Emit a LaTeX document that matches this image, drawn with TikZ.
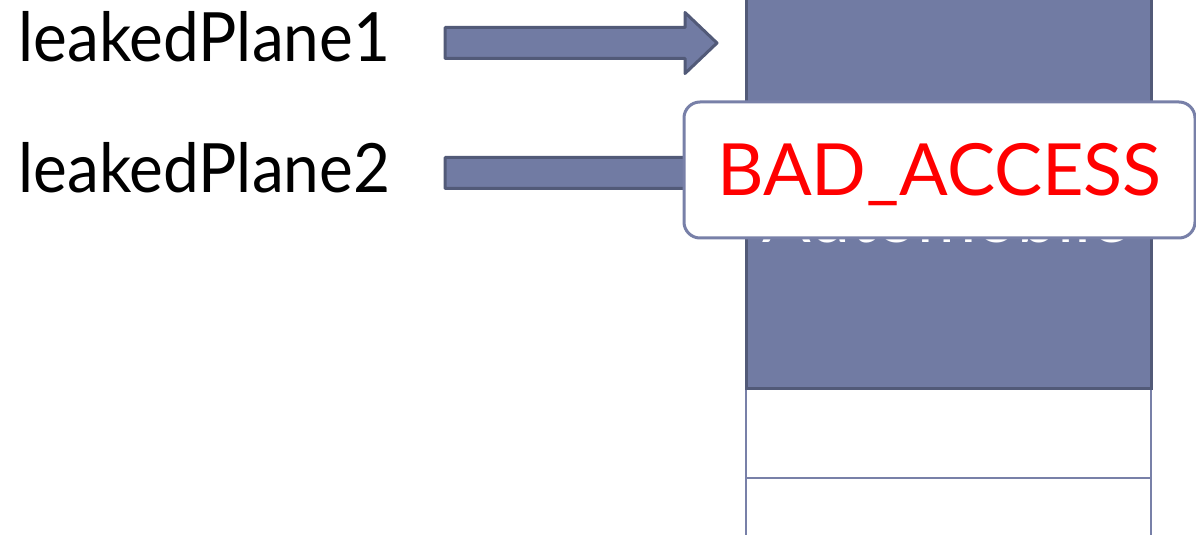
\documentclass[tikz,border=0pt]{standalone}
\usepackage{fontspec}
\setmainfont{Lato}
\newfontfamily\varfont[FakeStretch=0.94]{Lato}
\usepackage{tikz}
\usetikzlibrary{positioning}
\definecolor{slate}{RGB}{113,123,163}
\definecolor{slatedark}{RGB}{82,90,120}
\definecolor{cellline}{RGB}{120,128,168}
\definecolor{red}{rgb}{1.0, 0.0, 0.0}

\begin{document}
\begin{tikzpicture}[x=0.5pt, y=-0.5pt,
        varname/.style={anchor=base west, inner sep=0pt, font=\varfont\fontsize{34}{40}\selectfont},
        blockarrow/.style={fill=slate, draw=slatedark, line width=1.5pt, line join=round},
        cellbox/.style={draw=cellline, line width=1pt, fill=white}]
    \useasboundingbox (0, 0) rectangle (1196, 535);
    \begin{scope}
        \clip (0, 0) rectangle (1196, 535);
        % memory cells
        \draw[cellbox] (746, 388) rectangle (1151, 478);
        \draw[cellbox] (746, 478) rectangle (1151, 560);
        \node[draw=slatedark, fill=slate, line width=1.5pt, inner sep=0pt,
              minimum width=202.5pt, minimum height=214pt] (plane) at (948.5, 174) {};
        \node[anchor=base, inner sep=0pt, text=white, font=\fontsize{36}{42}\selectfont] (auto) at (946, 242.5) {Automobile};
        % pointers
        \node[varname] (lp1) at (18, 62) {leakedPlane1};
        \node[varname] (lp2) at (18, 193) {leakedPlane2};
        \foreach \y in {43, 173}
            \draw[blockarrow] (445, \y-15.5) -- (685, \y-15.5) -- (685, \y-30.5) -- (717, \y)
                -- (685, \y+30.5) -- (685, \y+15.5) -- (445, \y+15.5) -- cycle;
        % error
        \node[draw=cellline, fill=white, line width=1.5pt, rounded corners=8pt,
              minimum width=255.5pt, minimum height=68pt, text height=26pt, text depth=0pt,
              text=red, font=\fontsize{36}{42}\selectfont] (err) at (939.5, 170) {BAD\_ACCESS};
    \end{scope}
\end{tikzpicture}
\end{document}
